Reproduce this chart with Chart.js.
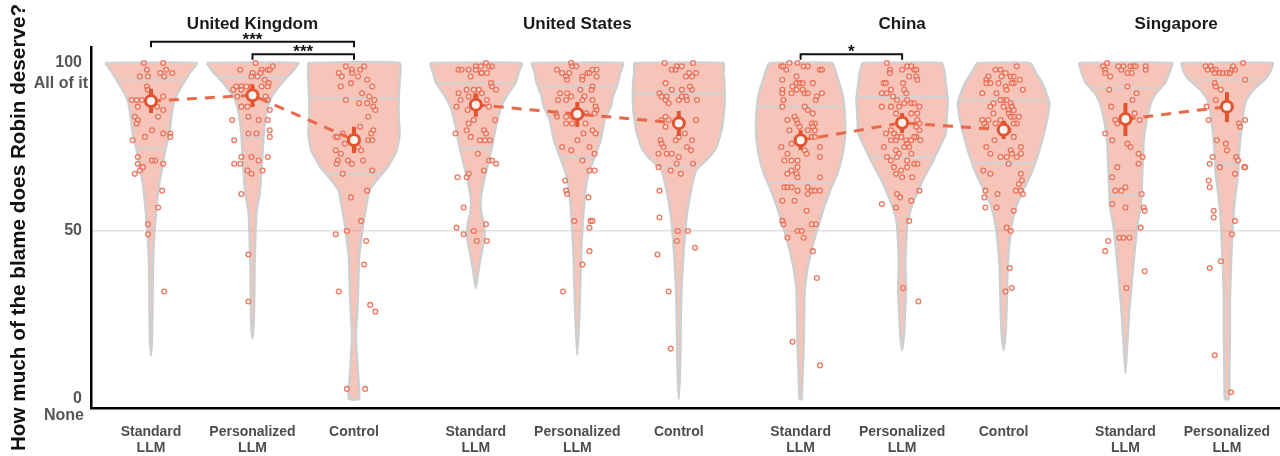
<!DOCTYPE html>
<html>
<head>
<meta charset="utf-8">
<script src="https://cdn.jsdelivr.net/npm/chart.js@4.4.1/dist/chart.umd.min.js"></script>
<style>
  html, body { margin: 0; padding: 0; background: #fff; }
  #wrap { width: 1280px; height: 456px; }
</style>
</head>
<body>
<div id="wrap"><canvas id="blame"></canvas></div>
<script>
// categories, placed on a linear x axis (one slot per condition, small gap between countries)
const positions = [0, 1, 2, 3.2, 4.2, 5.2, 6.4, 7.4, 8.4, 9.6, 10.6];
const tickLabels = [
  ['Standard', 'LLM'], ['Personalized', 'LLM'], ['Control'],
  ['Standard', 'LLM'], ['Personalized', 'LLM'], ['Control'],
  ['Standard', 'LLM'], ['Personalized', 'LLM'], ['Control'],
  ['Standard', 'LLM'], ['Personalized', 'LLM']
];
const groupNames = ['United Kingdom', 'United States', 'China', 'Singapore'];
const groupMembers = [[0, 1, 2], [3, 4, 5], [6, 7, 8], [9, 10]];

// means and 95% CI
const means  = [88.7, 90.4, 77.1, 87.6, 84.8, 82.1, 77.0, 82.2, 80.1, 83.3, 87.0];
const ciLow  = [85.1, 86.9, 73.2, 84.0, 81.0, 78.3, 74.1, 79.2, 77.4, 78.3, 82.4];
const ciHigh = [92.3, 93.5, 81.0, 91.0, 88.4, 85.7, 80.0, 85.1, 82.7, 88.1, 91.3];

// quartile lines inside the violins
const upperQuartiles = [100, 100, 100, 100, 100, 100, 100, 100, 100, 100, 100];
const medians        = [95, 95.8, 89.5, 94, 93, 91, 87, 89.9, 89, 92.6, 95];
const lowerQuartiles = [74.7, 77.7, 67, 74.7, 72, 69, 64.3, 72, 70.2, 60.7, 70];

// significance brackets
const bracketFrom  = [0, 1, 6];
const bracketTo    = [2, 2, 7];
const bracketLevel = [106.3, 102.6, 102.6];
const bracketText  = ['***', '***', '*'];

// violin outlines: [value, half width in hundredths of a slot]
const ukStdShape  = [[100,45],[97,38],[95,34],[92,28],[89,23],[84,20],[79,18],[74,14],[69,11],[64,8],[59,6],[50,3.5],[41,2],[30,1.5],[20,1.2],[12.8,0]];
const ukPersShape = [[100,45],[97,38],[95.5,33],[93,26],[89,17],[84,13],[79,11],[69,9],[61,7],[56,4],[50,3],[40,2],[25,1.5],[18,0]];
const ukCtrlShape = [[100,45],[95,45],[89,44],[84,44],[79,45],[74,42],[69,33],[65,22],[62,15],[59,13],[52,9],[42,5],[32,4],[25,3],[19,1.8],[12,3],[5,4.5],[0,5]];
const usStdShape  = [[100,45],[97,42],[94,39],[91,32],[87,25],[80,19],[75,16],[70,12],[65,8],[60,5],[56,5],[52,8],[48,8.5],[44,6],[40,3.5],[36,1.5],[33,0]];
const usPersShape = [[100,45],[97,42],[94,40],[90,35],[87,33],[83,27],[77,23],[72,17],[67,11],[62,8],[55,6],[45,4],[35,3],[25,2],[13,0]];
const usCtrlShape = [[100,44],[97,44],[94,45],[87,45],[80,42],[75,37],[72,30],[68,17],[62,12],[55,8],[45,5],[35,3],[25,2],[12,1.5],[0,0]];
const cnStdShape  = [[100,31],[97,35],[94,38],[91,41],[87,43],[81,44],[76,43],[71,40],[67,36],[62,29],[57,23],[52,18],[47,13],[42,9],[37.5,6],[32,4],[25,3.5],[15,3],[8,2],[0,1]];
const cnPersShape = [[100,39],[97,42],[94,43],[89,45],[84,44],[79,43],[75,37],[70,29],[65,20],[60,13],[56,8],[52,5],[47,4],[40,3],[33,4],[27,3],[20,2],[14.6,0]];
const cnCtrlShape = [[100,26],[97,32],[94,38],[91,42],[88,45],[85,44],[82,42],[77,38],[72,33],[67,27],[62,19],[57,12],[52,8],[47,6],[40,4],[35,3.5],[28,3],[20,2],[14.6,0]];
const sgStdShape  = [[100,46],[97,43],[94,39],[91,30],[88,25],[83,21],[77,18],[70,17],[63,16],[57,15],[52,12],[47,10],[42,8.5],[37.5,7],[32,5.5],[27,4],[17.5,2],[7.7,0]];
const sgPersShape = [[100,45],[97,42],[95,37],[92,26],[89,19],[85,16],[80,14],[73,12],[67,11],[60,8],[53,6],[47,5],[40,4],[30,3],[20,3],[10,2.5],[0,2]];

// individual responses: values and horizontal jitter (hundredths of a slot)
const ukStdValues = [100,98,100,97,98,97,96,96,96,93,92,89,89,89,87,90,87,86,84,83,84,82,80,79,79,78,77,78,72,70,69,71,71,70,68,67,62,57,52,49,32];
const ukStdJitter = [-7,-4,12,9,15,21,-11,-3,13,-4,-3,-19,-14,-9,-13,12,6,12,-16,-13,7,-14,1,19,12,19,-18,-6,-13,-13,-8,4,1,12,-11,-16,11,7,-3,-3,13];
const ukPersValues = [100,98,98,99,98,97,97,98,96,96,95,94,93,93,93,93,92,92,93,93,90,90,90,89,87,87,86,84,83,83,83,79,79,80,78,77,72,72,72,70,70,71,68,67,68,61,43,29];
const ukPersJitter = [3,9,15,20,-12,0,8,17,-1,5,12,16,-11,-16,-6,-1,-19,-11,9,15,-15,2,13,15,-11,-5,17,-4,6,15,-20,-4,4,17,17,-18,-11,-1,15,-18,-12,6,-5,-1,10,-11,-4,-4];
const ukCtrlValues = [99,98,98,99,97,96,97,96,94,95,93,93,89,91,90,89,88,88,87,86,84,81,80,79,78,78,79,77,77,76,74,73,74,75,71,71,70,70,71,67,68,60,62,53,50,49,47,40,32,28,26,3,3];
const ukCtrlJitter = [-8,-2,6,10,-15,-12,-2,4,-3,13,18,-13,-8,8,15,20,5,13,19,21,14,6,19,-11,-18,-16,17,14,18,-9,-18,-13,7,4,-6,-16,-17,-2,9,-11,18,-3,13,7,-7,-18,12,10,-15,16,21,-7,11];
const usStdValues = [98,98,98,99,99,100,99,99,96,97,97,97,98,94,93,91,92,92,92,92,89,90,90,91,89,87,86,87,83,82,83,80,80,79,79,78,77,77,77,73,71,71,70,68,66,66,67,57,52,51,49,50,47,47];
const usStdJitter = [-17,-14,-7,0,5,10,13,16,-5,5,11,6,0,15,16,-17,-9,-2,3,20,-15,-7,0,6,11,-19,-8,13,-2,-7,19,-9,8,10,-20,-5,4,9,14,2,13,16,20,8,-18,-9,-7,-12,10,-19,-12,-2,1,11];
const usPersValues = [98,97,96,100,99,97,99,97,98,98,96,96,95,97,95,93,92,92,91,91,89,89,90,90,89,89,87,86,85,84,84,84,85,85,82,82,82,80,79,79,77,75,74,75,73,71,68,68,65,62,61,60,53,53,53,51,44,40,32];
const usPersJitter = [-20,-15,-11,-6,-5,-8,-1,10,15,19,19,5,5,12,-10,15,14,3,-10,-17,-19,-11,-6,7,5,15,18,19,-21,-20,-11,-5,9,17,8,-11,-5,15,6,18,0,-15,-6,12,17,5,12,17,-12,-11,-10,11,-3,13,15,12,12,5,-14];
const usCtrlValues = [100,99,99,98,98,100,97,97,96,96,94,92,91,90,89,88,90,92,90,89,92,93,89,89,90,84,83,83,83,81,81,77,76,75,77,78,79,77,75,74,73,73,73,72,70,70,69,68,67,62,54,50,50,47,45,43,32,15];
const usCtrlJitter = [-14,-2,3,-7,-3,14,17,10,7,13,-13,-7,-19,-17,-13,-10,-12,3,7,8,13,11,18,0,3,-13,-10,-17,17,0,-13,-18,-17,-15,-3,0,6,13,8,12,-20,-12,-7,0,-2,14,-20,-8,2,-19,-19,-1,9,-2,16,-21,-10,-8];
const cnStdValues = [99,99,98,100,100,99,99,98,98,95,96,94,94,94,93,94,92,91,91,92,92,91,91,91,90,89,89,87,87,86,84,83,85,82,83,82,82,81,80,80,81,80,78,78,75,76,74,73,73,75,72,71,71,71,69,68,67,67,66,66,63,63,63,62,63,62,62,62,61,59,59,56,53,52,52,52,50,50,48,48,44,36,17,10];
const cnStdJitter = [-19,-17,-14,-11,-3,3,7,19,21,-18,-4,-4,-1,2,-8,12,-18,-18,-9,-4,2,4,7,21,16,15,-17,-18,4,7,-6,-13,12,14,-4,-3,11,12,14,-11,-1,7,11,14,-19,-9,4,6,-13,19,19,-16,-9,-3,-3,-9,-13,-4,-3,19,-16,-13,-9,-3,7,11,14,19,7,-18,-6,6,-18,-17,11,15,-3,1,-13,3,12,16,-8,19];
const cnPersValues = [100,98,97,98,99,99,98,98,96,96,95,94,94,94,92,91,91,90,89,92,91,89,88,88,88,87,87,87,87,85,85,85,82,81,80,83,78,77,80,79,79,78,77,77,78,77,77,78,76,75,75,75,74,73,72,71,72,73,71,70,70,69,68,69,67,66,66,62,61,60,58,57,59,53,33,29];
const cnPersJitter = [-15,-12,-12,0,5,9,12,14,7,14,15,1,-18,-16,-11,-20,-15,-9,-5,2,4,5,2,9,12,17,-20,-11,-3,-6,9,15,17,14,17,15,14,18,-11,-16,-8,-5,-11,-6,-1,4,9,12,5,2,7,-18,-6,-3,-15,-11,-5,9,5,12,15,5,-1,-8,-6,10,0,17,-5,-2,-20,-6,9,7,1,16];
const cnCtrlValues = [98,98,97,99,96,96,96,96,95,94,95,94,94,94,94,93,92,92,91,91,89,89,88,87,89,88,87,86,86,87,85,84,84,82,83,82,83,85,81,82,83,82,84,82,80,77,78,75,73,72,74,73,75,73,70,72,72,68,67,67,65,64,62,62,61,61,62,60,57,57,56,51,50,39,33,32];
const cnCtrlJitter = [-8,-3,2,13,-15,-2,7,10,16,10,-17,-17,-13,-5,8,2,3,19,-21,-7,0,-3,-10,-13,3,7,8,5,10,0,5,10,15,13,-21,-19,-15,-10,-17,-8,-3,0,7,10,5,-9,10,-17,-13,-3,7,8,17,17,5,13,3,-20,-13,17,18,15,12,17,19,-6,-18,-19,-18,-7,10,3,7,6,8,2];
const sgStdValues = [99,100,98,96,97,99,98,99,99,99,99,97,97,99,98,92,93,91,89,87,85,83,82,83,79,77,76,75,73,72,70,69,66,62,62,63,61,58,57,57,56,51,48,48,48,47,44,38,33];
const sgStdJitter = [-22,-18,-20,-15,-20,-7,-4,-2,5,8,10,6,2,20,20,-16,2,11,7,-14,9,-10,-8,14,-20,-13,2,5,13,17,13,-8,-13,-10,-4,0,16,-13,0,18,19,15,-6,-2,4,-17,-20,19,1];
const sgPersValues = [99,98,99,98,98,97,97,97,97,97,98,98,99,100,95,94,93,92,89,87,83,82,83,81,77,76,74,72,70,69,72,71,69,69,67,65,63,56,54,53,49,41,39,13,2];
const sgPersJitter = [-21,-19,-16,-14,-11,-7,-12,-4,0,3,5,8,6,16,18,-12,-11,-6,-11,-20,-18,12,18,13,-10,-1,0,-14,-17,-7,9,11,17,18,8,-18,-17,-13,-13,8,5,-6,-17,-12,4];

const shapes  = [ukStdShape, ukPersShape, ukCtrlShape, usStdShape, usPersShape, usCtrlShape, cnStdShape, cnPersShape, cnCtrlShape, sgStdShape, sgPersShape];
const values  = [ukStdValues, ukPersValues, ukCtrlValues, usStdValues, usPersValues, usCtrlValues, cnStdValues, cnPersValues, cnCtrlValues, sgStdValues, sgPersValues];
const jitters = [ukStdJitter, ukPersJitter, ukCtrlJitter, usStdJitter, usPersJitter, usCtrlJitter, cnStdJitter, cnPersJitter, cnCtrlJitter, sgStdJitter, sgPersJitter];

const violinFill = 'rgba(236,125,100,0.45)';
const violinEdge = '#cfcfcf';
const accent = '#e2532f';

Chart.defaults.font.family = '"Liberation Sans", Arial, Helvetica, sans-serif';

function widthAt(shape, v) {
  for (let i = 0; i < shape.length - 1; i++) {
    const [v0, w0] = shape[i], [v1, w1] = shape[i + 1];
    if (v <= v0 && v >= v1) return w0 + (w1 - w0) * (v0 - v) / (v0 - v1);
  }
  return 0;
}

const datasets = [];

shapes.forEach((shape, i) => {
  const c = positions[i];
  const left = shape.map(([v, w]) => ({x: c - w / 100, y: v}));
  const right = shape.map(([v, w]) => ({x: c + w / 100, y: v})).reverse();
  if (shape[shape.length - 1][1] === 0) right.shift();
  datasets.push({
    data: [...left, ...right, left[0]],
    fill: 'shape', backgroundColor: violinFill,
    borderColor: violinEdge, borderWidth: 2.5,
    pointRadius: 0, tension: 0.15, order: 6
  });
  [upperQuartiles[i], medians[i], lowerQuartiles[i]].forEach(q => {
    const w = widthAt(shape, q) / 100;
    datasets.push({
      data: [{x: c - w, y: q}, {x: c + w, y: q}],
      borderColor: '#d2d2d2', borderWidth: 2, pointRadius: 0, fill: false, order: 5
    });
  });
});

values.forEach((vals, i) => {
  datasets.push({
    showLine: false,
    data: vals.map((v, k) => ({x: positions[i] + jitters[i][k] / 100, y: v})),
    pointRadius: 2.4, pointBorderWidth: 1.3,
    pointBorderColor: 'rgba(234,105,80,0.9)',
    pointBackgroundColor: 'rgba(255,255,255,0.3)',
    order: 4
  });
});

groupMembers.forEach(g => {
  datasets.push({
    data: g.map(i => ({x: positions[i], y: means[i]})),
    borderColor: '#e8694a', borderWidth: 3, borderDash: [10, 8],
    pointRadius: 0, fill: false, tension: 0, order: 3
  });
});

positions.forEach((p, i) => {
  datasets.push({
    data: [{x: p, y: ciLow[i]}, {x: p, y: ciHigh[i]}],
    borderColor: accent, borderWidth: 4, pointRadius: 0, fill: false, order: 2
  });
});

datasets.push({
  showLine: false,
  data: positions.map((p, i) => ({x: p, y: means[i]})),
  pointRadius: 5.5, pointBorderWidth: 3,
  pointBorderColor: accent, pointBackgroundColor: '#fdf1ed',
  order: 1
});

const annotations = {
  id: 'annotations',
  afterDraw(chart) {
    const {ctx, scales: {x, y}} = chart;
    ctx.save();
    // country titles
    ctx.fillStyle = '#1a1a1a';
    ctx.font = 'bold 17px "Liberation Sans", Arial, sans-serif';
    ctx.textAlign = 'center';
    ctx.textBaseline = 'alphabetic';
    groupNames.forEach((name, g) => {
      const m = groupMembers[g];
      const cx = (x.getPixelForValue(positions[m[0]]) + x.getPixelForValue(positions[m[m.length - 1]])) / 2;
      ctx.fillText(name, cx, 29);
    });
    // significance brackets
    ctx.strokeStyle = '#111';
    ctx.lineWidth = 2;
    ctx.font = 'bold 17px "Liberation Sans", Arial, sans-serif';
    bracketFrom.forEach((f, b) => {
      const x1 = x.getPixelForValue(positions[f]);
      const x2 = x.getPixelForValue(positions[bracketTo[b]]);
      const yy = y.getPixelForValue(bracketLevel[b]);
      ctx.beginPath();
      ctx.moveTo(x1, yy + 5.5);
      ctx.lineTo(x1, yy);
      ctx.lineTo(x2, yy);
      ctx.lineTo(x2, yy + 5.5);
      ctx.stroke();
      ctx.fillStyle = '#111';
      ctx.fillText(bracketText[b], (x1 + x2) / 2, yy + 3);
    });
    // secondary y labels
    ctx.fillStyle = '#555';
    ctx.font = 'bold 16px "Liberation Sans", Arial, sans-serif';
    ctx.textAlign = 'right';
    ctx.textBaseline = 'middle';
    ctx.fillText('All of it', 88, y.getPixelForValue(100) + 21);
    ctx.fillText('None', 84, y.getPixelForValue(0) + 17);
    ctx.restore();
  }
};

new Chart(document.getElementById('blame'), {
  type: 'line',
  data: {datasets},
  plugins: [annotations],
  options: {
    responsive: true,
    maintainAspectRatio: false,
    animation: false,
    events: [],
    layout: {autoPadding: false, padding: {top: 47, left: 0, right: 0, bottom: 0}},
    plugins: {legend: {display: false}, tooltip: {enabled: false}},
    scales: {
      x: {
        type: 'linear',
        min: -0.591, max: 11.123,
        afterBuildTicks: s => { s.ticks = positions.map(v => ({value: v})); },
        afterFit: s => { s.height = 48; s.paddingLeft = 0; s.paddingRight = 0; },
        grid: {display: false},
        border: {display: true, color: '#000', width: 2.5},
        ticks: {
          autoSkip: false, maxRotation: 0, padding: 8,
          color: '#4d4d4d',
          font: {size: 14, weight: 'bold', lineHeight: 1.15},
          callback: (v, i) => tickLabels[i]
        }
      },
      y: {
        min: -2.68, max: 104.76,
        afterBuildTicks: s => { s.ticks = [0, 50, 100].map(v => ({value: v})); },
        afterFit: s => { s.width = 91; },
        grid: {
          drawTicks: false, lineWidth: 1.5,
          color: c => (c.tick && c.tick.value === 50 ? '#e2e2e2' : 'rgba(0,0,0,0)')
        },
        border: {display: true, color: '#000', width: 2.5},
        ticks: {padding: 9, color: '#555', font: {size: 16, weight: 'bold'}},
        title: {
          display: true,
          text: 'How much of the blame does Robin deserve?',
          color: '#111',
          font: {size: 20.7, weight: 'bold'},
          padding: {top: 7, bottom: 0}
        }
      }
    }
  }
});
</script>
</body>
</html>
